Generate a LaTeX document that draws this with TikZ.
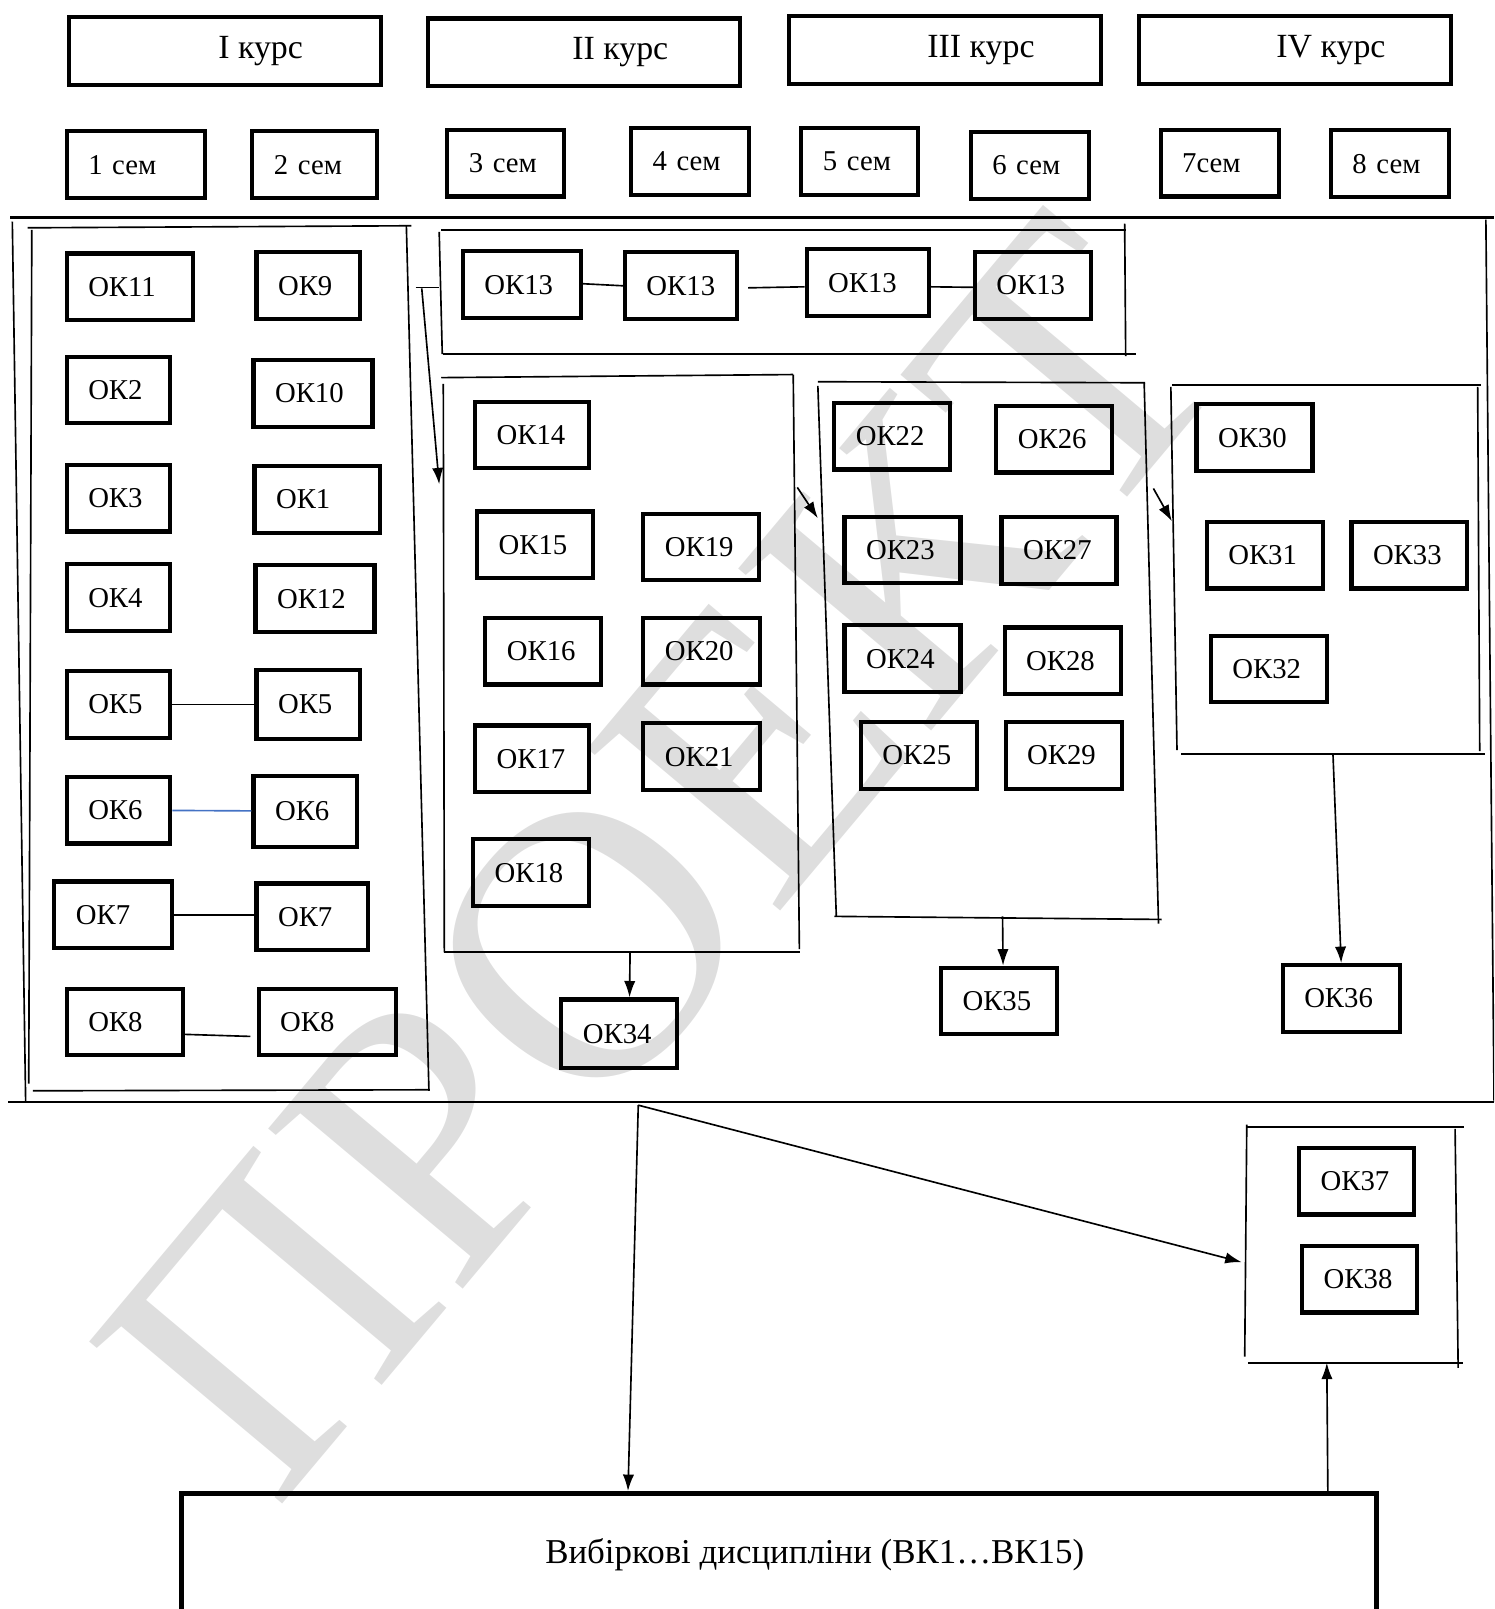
\documentclass[tikz,border=0pt]{standalone}
\usepackage{fontspec}
\setmainfont{Liberation Serif}
\usetikzlibrary{arrows.meta}
\definecolor{lineblue}{RGB}{68,114,196}
\newcommand{\okfont}{\fontsize{28}{30}\selectfont}
\newcommand{\semfont}{\fontsize{28}{30}\selectfont}
\newcommand{\coursefont}{\fontsize{33}{36}\selectfont}
\newcommand{\vkfont}{\fontsize{34}{36}\selectfont}
\tikzset{
  okbox/.style={draw, line width=4pt, inner xsep=21pt, inner ysep=0pt,
    minimum height=65pt, align=left, text width=#1, font=\okfont},
  okbox/.default=71pt,
  sembox/.style={okbox=#1, font=\semfont},
  coursebox/.style={draw, line width=4pt, minimum width=304pt,
    minimum height=66pt, inner sep=0pt,
    label={[xshift=35pt, font=\coursefont]center:#1}},
  frame/.style={line width=1.6pt},
  longline/.style={line width=2.2pt},
  link/.style={line width=1.6pt},
  arr/.style={line width=1.6pt, -{Latex[length=16pt,width=11pt]}}
}
\begin{document}
\begin{tikzpicture}[x=1pt,y=-1pt]
\useasboundingbox (0,0) rectangle (1456,1568);
\clip (0,0) rectangle (1456,1568);
\node[rotate=50, text=black!13, font=\fontsize{375}{375}\selectfont] (wm) at (645,835) {ПРОЕКТ};

% courses and semesters
\node[coursebox={I курс}] (c1) at (219,50) {};
\node[coursebox={II курс}] (c2) at (569.5,51) {};
\node[coursebox={III курс}] (c3) at (921,49) {};
\node[coursebox={IV курс}] (c4) at (1262,49) {};
\node[sembox=93pt] (s1) at (132.5,160.5) {1 сем};
\node[sembox=79pt] (s2) at (306.5,160.5) {2 сем};
\node[sembox=72pt] (s3) at (493,159) {3 сем};
\node[sembox=73pt] (s4) at (672.5,157.5) {4 сем};
\node[sembox=72pt] (s5) at (838,157.5) {5 сем};
\node[sembox=73pt] (s6) at (1003.5,161) {6 сем};
\node[sembox=73pt] (s7) at (1188.5,159) {7сем};
\node[sembox=73pt] (s8) at (1354.5,159.5) {8 сем};

\draw[longline] (10,212) -- (1456,212);
\draw[longline] (8,1074) -- (1456,1074);
\draw[frame] (12,216) -- (25,1074);
\draw[frame] (1448,214) -- (1456,1074);

% first year
\draw[frame] (27,222) -- (401,220);
\draw[frame] (31,224) -- (28,1056);
\draw[frame] (396,220) -- (418,1063);
\draw[frame] (32,1063) -- (419,1062);
\node[okbox=81pt] (ok11) at (126.5,279.5) {ОК11};
\node[okbox=59pt] (ok9) at (300.5,278.5) {ОК9};
\node[okbox=59pt] (ok2) at (115.5,380) {ОК2};
\node[okbox=74pt] (ok10) at (305,383.5) {ОК10};
\node[okbox=59pt] (ok3) at (115.5,485.5) {ОК3};
\node[okbox=80pt] (ok1) at (309,486.5) {ОК1};
\node[okbox=59pt] (ok4) at (115.5,582.5) {ОК4};
\node[okbox=74pt] (ok12) at (307,583.5) {ОК12};
\node[okbox=59pt] (ok5a) at (115.5,686.5) {ОК5};
\node[okbox=59pt, minimum height=67pt] (ok5b) at (300.5,686.5) {ОК5};
\node[okbox=59pt] (ok6a) at (115.5,789.5) {ОК6};
\node[okbox=59pt, minimum height=69pt] (ok6b) at (297.5,790.5) {ОК6};
\node[okbox=73pt] (ok7a) at (110.5,891.5) {ОК7};
\node[okbox=67pt] (ok7b) at (304.5,893.5) {ОК7};
\node[okbox=71pt, minimum height=64pt] (ok8a) at (121.5,996) {ОК8};
\node[okbox=92pt, minimum height=64pt] (ok8b) at (319,996) {ОК8};
\draw[link] (ok5a) -- (ok5b);
\draw[link, lineblue] (ok6a) -- (ok6b);
\draw[link] (ok7a.east) -- (ok7a.east -| ok7b.west);
\draw[link] ([yshift=-12pt]ok8a.east) -- ([xshift=-6pt,yshift=-14pt]ok8b.west);

% OK13 row
\draw[frame] (430,224) -- (1097,224);
\draw[frame] (428,226) -- (431,345);
\draw[frame] (1096,218) -- (1097,347);
\draw[frame] (432,345) -- (1107,345);
\node[okbox=73pt] (ok13a) at (508.5,277.5) {ОК13};
\node[okbox=67pt] (ok13b) at (663.5,278.5) {ОК13};
\node[okbox=77pt] (ok13c) at (845.5,275.5) {ОК13};
\node[okbox=71pt] (ok13d) at (1006.5,278) {ОК13};
\draw[link] ([yshift=1pt]ok13a.east) -- (ok13b.west);
\draw[link] ([xshift=9pt,yshift=-2pt]ok13b.east) -- ([yshift=-4pt]ok13c.west);
\draw[link] ([yshift=-4pt]ok13c.east) -- ([yshift=-2pt]ok13d.west);
\coordinate (t1) at (405,280);
\coordinate (t2) at (428,280);
\coordinate (t3) at (411,281);
\coordinate (t4) at (428,472);
\draw[link] (t1) -- (t2);
\draw[arr] (t3) -- (t4);

% second year
\draw[frame] (430,368) -- (773,365);
\draw[frame] (432,374) -- (433,928);
\draw[frame] (773,365) -- (779,925);
\draw[frame] (433,928) -- (780,928);
\node[okbox=69pt] (ok14) at (518.5,424) {ОК14};
\node[okbox=71pt] (ok15) at (521.5,531) {ОК15};
\node[okbox=71pt] (ok19) at (683.5,533) {ОК19};
\node[okbox=71pt] (ok16) at (529.5,634.5) {ОК16};
\node[okbox=72pt] (ok20) at (684,634.5) {ОК20};
\node[okbox=69pt] (ok17) at (518.5,739.5) {ОК17};
\node[okbox=72pt] (ok21) at (684,737.5) {ОК21};
\node[okbox=71pt] (ok18) at (517.5,850.5) {ОК18};
\node[okbox=71pt, minimum height=67pt] (ok34) at (603.5,1007.5) {ОК34};
\coordinate (f2) at (614,928);
\draw[arr] (f2) -- ([xshift=10pt]ok34.north);
\coordinate (a1) at (777,475);
\coordinate (a2) at (797,505);
\draw[arr] (a1) -- (a2);

% third year
\draw[frame] (797,372) -- (1116,373);
\draw[frame] (797,376) -- (815,893);
\draw[frame] (1115,373) -- (1129,900);
\draw[frame] (813,893) -- (1132,896);
\node[okbox] (ok22) at (869.5,425) {ОК22};
\node[okbox] (ok26) at (1027.5,428) {ОК26};
\node[okbox] (ok23) at (879.5,536) {ОК23};
\node[okbox=70pt] (ok27) at (1032,536.5) {ОК27};
\node[okbox] (ok24) at (879.5,642) {ОК24};
\node[okbox] (ok28) at (1035.5,644) {ОК28};
\node[okbox] (ok25) at (895.5,736) {ОК25};
\node[okbox] (ok29) at (1036.5,736) {ОК29};
\node[okbox] (ok35) at (973.5,975.5) {ОК35};
\coordinate (f3) at (977,893);
\draw[arr] (f3) -- ([xshift=4pt]ok35.north);
\coordinate (a3) at (1124,476);
\coordinate (a4) at (1142,508);
\draw[arr] (a3) -- (a4);

% fourth year
\draw[frame] (1142,375) -- (1443,375);
\draw[frame] (1141,377) -- (1147,731);
\draw[frame] (1440,377) -- (1442,732);
\draw[frame] (1151,735) -- (1447,735);
\node[okbox] (ok30) at (1222.5,426.5) {ОК30};
\node[okbox] (ok31) at (1232.5,541) {ОК31};
\node[okbox] (ok33) at (1373.5,541) {ОК33};
\node[okbox] (ok32) at (1236.5,652) {ОК32};
\node[okbox=72pt] (ok36) at (1307,973) {ОК36};
\coordinate (f4) at (1299,735);
\draw[arr] (f4) -- (ok36.north);

% bottom
\draw[frame] (1215,1098) -- (1427,1098);
\draw[frame] (1215,1096) -- (1213,1322);
\draw[frame] (1418,1100) -- (1421,1333);
\draw[frame] (1216,1328) -- (1426,1328);
\node[okbox=70pt] (ok37) at (1322,1151) {ОК37};
\node[okbox=70pt] (ok38) at (1325,1246.5) {ОК38};
\node[draw, line width=5pt, minimum width=1164pt, minimum height=200pt,
  label={[xshift=35pt, yshift=40pt, font=\vkfont]center:Вибіркові дисципліни (ВК1…ВК15)}] (vk) at (759,1555.5) {};
\coordinate (b0) at (622,1077);
\coordinate (b1) at (1210,1230);
\coordinate (b2) at (1293,1328);
\draw[arr] (b0) -- ([xshift=-147pt]vk.north);
\draw[arr] (b0) -- (b1);
\draw[arr] ([xshift=535pt]vk.north) -- (b2);
\end{tikzpicture}
\end{document}
